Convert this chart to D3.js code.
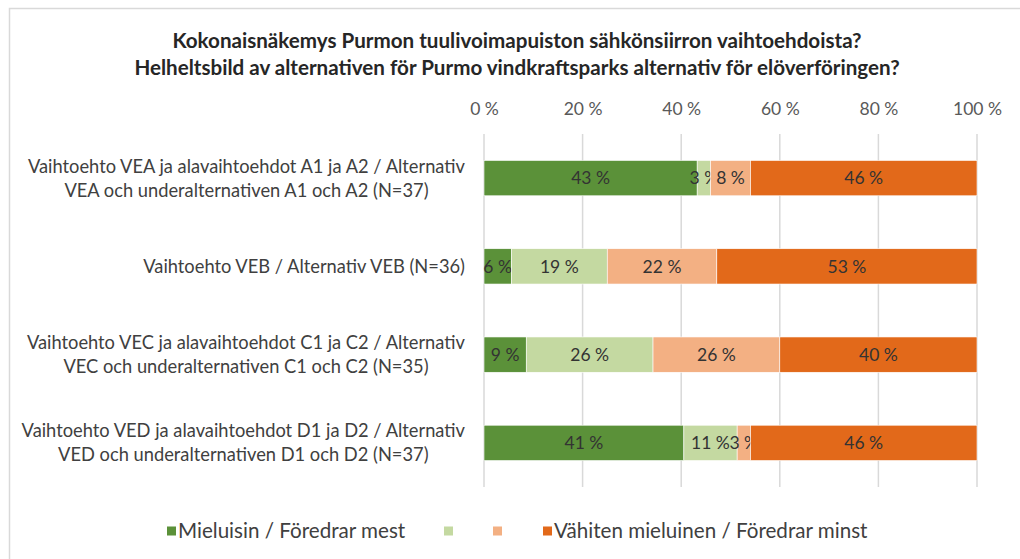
<!DOCTYPE html>
<html>
<head>
<meta charset="utf-8">
<script src="https://cdn.jsdelivr.net/npm/d3@7"></script>
<style>
  html, body { margin: 0; padding: 0; background: #fff; }
  svg { display: block; font-family: Lato, "Open Sans", sans-serif; }
</style>
</head>
<body>
<svg id="chart" width="1020" height="559"></svg>
<script>
// Survey: overall view of the grid-connection alternatives (Purmo wind park)
const titleLines = [
  "Kokonaisnäkemys Purmon tuulivoimapuiston sähkönsiirron vaihtoehdoista?",
  "Helheltsbild av alternativen för Purmo vindkraftsparks alternativ för elöverföringen?"
];

const categories = [
  ["Vaihtoehto VEA ja alavaihtoehdot A1 ja A2 / Alternativ", "VEA och underalternativen A1 och A2 (N=37)"],
  ["Vaihtoehto VEB / Alternativ VEB (N=36)"],
  ["Vaihtoehto VEC ja alavaihtoehdot C1 ja C2 / Alternativ", "VEC och underalternativen C1 och C2 (N=35)"],
  ["Vaihtoehto VED ja alavaihtoehdot D1 ja D2 / Alternativ", "VED och underalternativen D1 och D2 (N=37)"]
];

// respondents per alternative
const respondents = [37, 36, 35, 37];

// answer counts per ranking position
const mostPreferred  = [16, 2, 3, 15];
const secondChoice   = [1, 7, 9, 4];
const thirdChoice    = [3, 8, 9, 1];
const leastPreferred = [17, 19, 14, 17];

const seriesNames = ["Mieluisin / Föredrar mest", "", "", "Vähiten mieluinen / Föredrar minst"];
const seriesColors = ["#5B9139", "#C4D9A1", "#F3B083", "#E2691A"];

const tickValues = [0, 20, 40, 60, 80, 100];

const seriesCounts = [mostPreferred, secondChoice, thirdChoice, leastPreferred];

// percentage table, one row per alternative
const rows = categories.map((c, i) => {
  const r = { idx: i };
  seriesCounts.forEach((s, k) => { r["s" + k] = s[i] / respondents[i] * 100; });
  return r;
});
const keys = seriesCounts.map((_, k) => "s" + k);
const stacked = d3.stack().keys(keys)(rows);

const svg = d3.select("#chart");

// frame of the chart area
svg.append("path")
  .attr("d", "M9.5,559 L9.5,8.5 L1020,8.5")
  .attr("fill", "none").attr("stroke", "#d9d9d9").attr("stroke-width", 1.5);

const x = d3.scaleLinear().domain([0, 100]).range([484, 977]);
const y = d3.scaleBand().domain(d3.range(categories.length))
  .range([134, 487]).paddingInner(0.6).paddingOuter(0.3);

// title
svg.append("g").selectAll("text").data(titleLines).join("text")
  .attr("x", 517).attr("y", (d, i) => 48 + i * 27)
  .attr("text-anchor", "middle")
  .attr("font-weight", "bold").attr("font-size", 20.6)
  .attr("fill", "#262626")
  .text(d => d);

// gridlines
svg.append("g").selectAll("line").data(tickValues).join("line")
  .attr("x1", d => x(d)).attr("x2", d => x(d))
  .attr("y1", 134).attr("y2", 487)
  .attr("stroke", "#d9d9d9").attr("stroke-width", 1.5);

// top axis
const axis = d3.axisTop(x).tickValues(tickValues).tickSize(0).tickPadding(0)
  .tickFormat(d => d + " %");
const ax = svg.append("g").attr("transform", "translate(0,115)").call(axis);
ax.select(".domain").remove();
ax.selectAll("text").attr("font-size", 17.5).attr("fill", "#595959")
  .attr("font-family", "Lato, sans-serif");

// stacked bars
const layers = svg.append("g").selectAll("g").data(stacked).join("g")
  .attr("fill", (d, k) => seriesColors[k]);

layers.selectAll("rect").data(d => d).join("rect")
  .attr("x", d => x(d[0]))
  .attr("y", d => y(d.data.idx))
  .attr("width", d => x(d[1]) - x(d[0]))
  .attr("height", y.bandwidth())
  .attr("stroke", "#fff").attr("stroke-width", 0.6);

// data labels
layers.selectAll("text").data(d => d).join("text")
  .attr("x", d => (x(d[0]) + x(d[1])) / 2)
  .attr("y", d => y(d.data.idx) + y.bandwidth() / 2)
  .attr("dy", "0.36em")
  .attr("text-anchor", "middle")
  .attr("font-size", 17.5).attr("fill", "#333")
  .text(d => Math.round(d[1] - d[0]) + " %");

// category labels: lines centred inside a block that is right-aligned
const catG = svg.append("g").selectAll("g").data(categories).join("g")
  .attr("transform", (d, i) => `translate(0,${y(i) + y.bandwidth() / 2})`);
catG.each(function (lines) {
  const g = d3.select(this);
  const lineH = 24;
  const ts = g.selectAll("text").data(lines).join("text")
    .attr("font-size", 18.3).attr("fill", "#404040")
    .attr("text-anchor", "middle")
    .attr("y", (d, j) => (j - (lines.length - 1) / 2) * lineH)
    .attr("dy", "0.36em")
    .text(d => d);
  let w = 0;
  ts.each(function () { w = Math.max(w, this.getComputedTextLength()); });
  ts.attr("x", 465 - w / 2);
});

// legend
const legendX = [167, 444, 493, 543];
const lg = svg.append("g").selectAll("g").data(seriesNames).join("g")
  .attr("transform", (d, k) => `translate(${legendX[k]},531)`);
lg.append("rect").attr("x", 0).attr("y", -4.5).attr("width", 9).attr("height", 9)
  .attr("fill", (d, k) => seriesColors[k]);
lg.append("text").attr("x", 11).attr("dy", "0.36em")
  .attr("font-size", 20.6).attr("fill", "#404040")
  .text(d => d);
</script>
</body>
</html>
